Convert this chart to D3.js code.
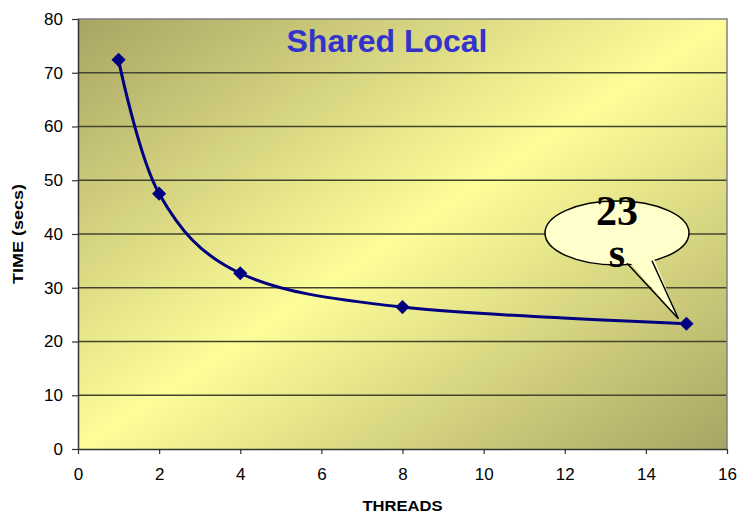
<!DOCTYPE html>
<html>
<head>
<meta charset="utf-8">
<script src="https://cdn.jsdelivr.net/npm/d3@7"></script>
<style>
  html, body { margin: 0; padding: 0; background: #ffffff; }
  svg { display: block; }
</style>
</head>
<body>
<svg id="chart" width="738" height="515"></svg>
<script>
// Run time of the "Shared Local" variant against thread count
const threads = [1, 2, 4, 8, 15];
const seconds = [72.4, 47.5, 32.7, 26.4, 23.3];
const xTicks = [0, 2, 4, 6, 8, 10, 12, 14, 16];
const yTicks = [0, 10, 20, 30, 40, 50, 60, 70, 80];
const chartTitle = "Shared Local";
const xTitle = "THREADS";
const yTitle = "TIME (secs)";
const calloutLines = ["23", "s"];
const calloutIndex = 4;

const svg = d3.select("#chart");
const plotL = 78, plotR = 727, plotT = 19, plotB = 449;

const x = d3.scaleLinear().domain([0, 16]).range([plotL, plotR]);
const y = d3.scaleLinear().domain([0, 80]).range([plotB, plotT]);

// Plot area fill: olive corners, pale yellow across the diagonal
const defs = svg.append("defs");
const grad = defs.append("linearGradient")
  .attr("id", "plotFill")
  .attr("x1", 0).attr("y1", 0).attr("x2", 1).attr("y2", 1);
grad.append("stop").attr("offset", 0).attr("stop-color", "#a8a563");
grad.append("stop").attr("offset", 0.5).attr("stop-color", "#fdfd99");
grad.append("stop").attr("offset", 1).attr("stop-color", "#a8a563");

svg.append("rect")
  .attr("x", plotL).attr("y", plotT)
  .attr("width", plotR - plotL).attr("height", plotB - plotT)
  .attr("fill", "url(#plotFill)");

// Horizontal gridlines
svg.append("g")
  .selectAll("line")
  .data(yTicks.filter(v => v > 0 && v < 80))
  .join("line")
  .attr("x1", plotL).attr("x2", plotR)
  .attr("y1", d => y(d)).attr("y2", d => y(d))
  .attr("stroke", "#45452f")
  .attr("stroke-width", 1.4);

// Plot frame (top and right edges)
svg.append("path")
  .attr("d", `M${plotL},${plotT}H${plotR}V${plotB}`)
  .attr("fill", "none")
  .attr("stroke", "#808080")
  .attr("stroke-width", 1.5);

// Axes
const xAxis = d3.axisBottom(x).tickValues(xTicks).tickSize(5).tickPadding(14);
const yAxis = d3.axisLeft(y).tickValues(yTicks).tickSize(6).tickPadding(9);

const gx = svg.append("g").attr("transform", `translate(0,${plotB})`).call(xAxis);
const gy = svg.append("g").attr("transform", `translate(${plotL},0)`).call(yAxis);

[gx, gy].forEach(g => {
  g.select(".domain").attr("stroke", "#333333").attr("stroke-width", 1.5);
  g.selectAll(".tick line").attr("stroke", "#333333").attr("stroke-width", 1.2);
  g.selectAll(".tick text")
    .attr("font-family", "Liberation Sans, Arial, sans-serif")
    .attr("font-size", 17)
    .attr("fill", "#000000");
});
gx.select(".domain").attr("d", `M${plotL},0.5H${plotR}`);
gy.select(".domain").attr("d", `M0.5,${plotT}V${plotB}`);

// Axis titles
svg.append("text")
  .attr("x", (plotL + plotR) / 2).attr("y", 511)
  .attr("text-anchor", "middle")
  .attr("font-family", "Liberation Sans, Arial, sans-serif")
  .attr("font-weight", "bold").attr("font-size", 14)
  .attr("textLength", 80).attr("lengthAdjust", "spacingAndGlyphs")
  .text(xTitle);

svg.append("text")
  .attr("transform", `translate(23,${(plotT + plotB) / 2}) rotate(-90)`)
  .attr("text-anchor", "middle")
  .attr("font-family", "Liberation Sans, Arial, sans-serif")
  .attr("font-weight", "bold").attr("font-size", 14)
  .attr("textLength", 100).attr("lengthAdjust", "spacingAndGlyphs")
  .text(yTitle);

// Chart title inside the plot area
svg.append("text")
  .attr("x", 387).attr("y", 52)
  .attr("text-anchor", "middle")
  .attr("font-family", "Liberation Sans, Arial, sans-serif")
  .attr("font-weight", "bold").attr("font-size", 32)
  .attr("fill", "#3333cc")
  .text(chartTitle);

// Smoothed series line
const pts = threads.map((t, i) => [t, seconds[i]]);
const line = d3.line()
  .x(d => x(d[0])).y(d => y(d[1]))
  .curve(d3.curveCatmullRom.alpha(0));

svg.append("path")
  .datum(pts)
  .attr("d", line)
  .attr("fill", "none")
  .attr("stroke", "#000080")
  .attr("stroke-width", 3)
  .attr("stroke-linejoin", "round");

// Diamond markers
svg.append("g")
  .selectAll("path")
  .data(pts)
  .join("path")
  .attr("transform", d => `translate(${x(d[0])},${y(d[1])}) rotate(45)`)
  .attr("d", d3.symbol().type(d3.symbolSquare).size(100))
  .attr("fill", "#000080");

// Speech-bubble callout pointing at the last point
const tipX = x(threads[calloutIndex]) - 8;
const tipY = y(seconds[calloutIndex]) - 5;
const cx = 617, cy = 233, rx = 72, ry = 32;
const callout = svg.append("g");
callout.append("ellipse")
  .attr("cx", cx).attr("cy", cy).attr("rx", rx).attr("ry", ry)
  .attr("fill", "#ffffcc")
  .attr("stroke", "#000000")
  .attr("stroke-width", 1.5);
// tail: filled wedge overlapping the bubble edge, then its two outer strokes
callout.append("path")
  .attr("d", `M626,258L${tipX},${tipY}L653,256Z`)
  .attr("fill", "#ffffcc");
callout.append("path")
  .attr("d", `M627,263.2L${tipX},${tipY}L652,260.8`)
  .attr("fill", "none")
  .attr("stroke", "#000000")
  .attr("stroke-width", 1.5);

callout.selectAll("text")
  .data(calloutLines)
  .join("text")
  .attr("x", cx).attr("y", (d, i) => 225 + i * 42)
  .attr("text-anchor", "middle")
  .attr("font-family", "Liberation Serif, Times New Roman, serif")
  .attr("font-weight", "bold").attr("font-size", 42)
  .attr("fill", "#000000")
  .text(d => d);
</script>
</body>
</html>
